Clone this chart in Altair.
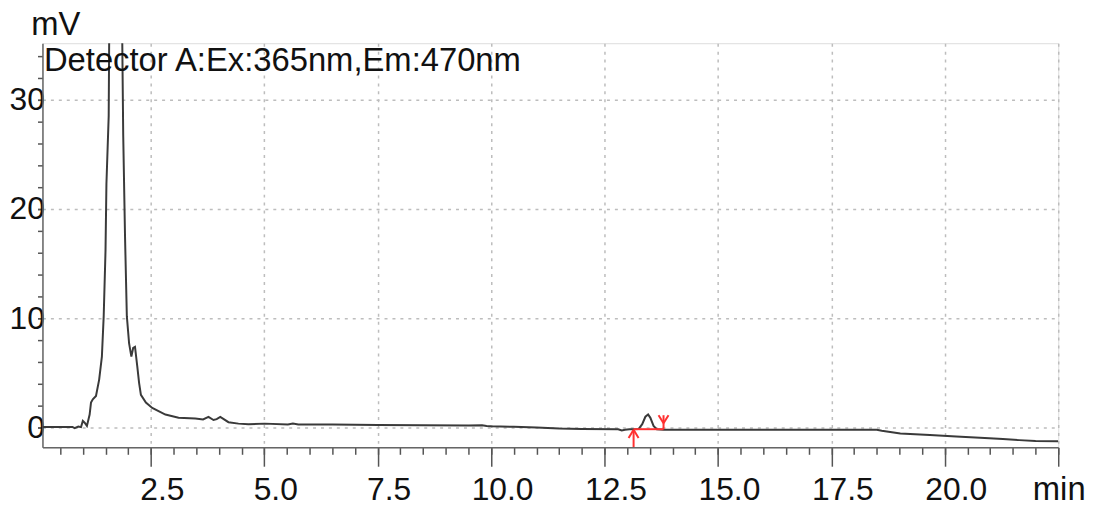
import altair as alt
import pandas as pd

# ---- chromatogram ----
time_min = [0.11, 0.77, 0.82, 0.90, 0.96, 1.00, 1.04, 1.09, 1.15, 1.18, 1.22, 1.29,
            1.36, 1.42, 1.46, 1.50, 1.52, 1.57, 1.58, 1.63, 1.73, 1.82, 1.87, 1.89,
            1.93, 1.97, 2.02, 2.07, 2.11, 2.15, 2.20, 2.24, 2.28, 2.39, 2.53, 2.82,
            3.11, 3.48, 3.65, 3.77, 3.88, 3.95, 4.03, 4.21, 4.43, 4.65, 5.01, 5.52,
            5.63, 5.75, 6.5, 7.5, 8.5, 9.5, 9.8, 9.9, 10.0, 10.5, 11.0, 11.5, 12.0,
            12.8, 12.88, 12.95, 13.05, 13.25, 13.33, 13.40, 13.46, 13.51, 13.58,
            13.65, 13.8, 15.0, 17.0, 18.5, 18.61, 19.02, 19.67, 20.25, 20.88, 21.28,
            21.64, 22.0, 22.5]
signal_mv = [0.07, 0.07, -0.05, 0.10, 0.05, 0.62, 0.45, 0.16, 1.2, 2.3, 2.6, 2.9,
             4.4, 6.5, 10.2, 16.2, 22.3, 28.5, 35.0, 60.0, 95.0, 60.0, 35.0, 26.8,
             17.5, 10.2, 7.7, 6.5, 7.3, 7.4, 5.6, 4.1, 3.0, 2.3, 1.8, 1.2,
             0.9, 0.83, 0.75, 0.98, 0.7, 0.78, 0.98, 0.5, 0.37, 0.32, 0.37, 0.30,
             0.38, 0.30, 0.28, 0.25, 0.23, 0.20, 0.22, 0.15, 0.13, 0.08, 0.02, -0.08, -0.13,
             -0.14, -0.25, -0.20, -0.15, -0.12, 0.32, 1.0, 1.2, 0.9, 0.16,
             -0.14, -0.20, -0.20, -0.20, -0.20, -0.29, -0.53, -0.68, -0.80, -0.95, -1.04,
             -1.14, -1.23, -1.25]

# ---- integration marks of the small peak (baseline and start/end arrows) ----
seg_x = [13.14, 13.14, 13.14, 13.14, 13.80, 13.80, 13.80]
seg_x2 = [13.80, 13.14, 13.03, 13.25, 13.80, 13.69, 13.91]
seg_y = [-0.14, -0.20, -0.20, -0.20, 1.14, 0.41, 0.41]
seg_y2 = [-0.14, -1.77, -0.95, -0.95, -0.14, 1.14, 1.14]

# ---- ticks ----
major_x = [2.5, 5.0, 7.5, 10.0, 12.5, 15.0, 17.5, 20.0, 22.5]
minor_x = [0.5 * i for i in range(1, 46)]
major_y = [0, 10, 20, 30]
minor_y = list(range(0, 36, 2))

detector_label = ["Detector A:Ex:365nm,Em:470nm"]
y_unit = ["mV"]
x_unit = ["min"]

FONT = "Liberation Sans"
FS = 32
W, H = 1023, 407

df = pd.DataFrame({"t": time_min, "mv": signal_mv})
seg = pd.DataFrame({"x": seg_x, "x2": seg_x2, "y": seg_y, "y2": seg_y2})

xscale = alt.Scale(domain=[0.11, 22.5], nice=False, zero=False)
yscale = alt.Scale(domain=[-1.8, 35.17], nice=False, zero=False)

line = alt.Chart(df).mark_line(clip=True, color="#3a3a3a", strokeWidth=2).encode(
    x=alt.X("t:Q", scale=xscale, axis=alt.Axis(
        values=major_x, orient="bottom", title=None, tickSize=19, tickColor="#555",
        tickWidth=1.5, labelExpr="datum.value > 22 ? '' : format(datum.value, '.1f')",
        labelFont=FONT, labelFontSize=FS, labelColor="#111", labelOffset=11,
        labelPadding=34, labelBaseline="alphabetic", labelFlush=False,
        grid=True, gridColor="#bdbdbd", gridDash=[3, 5], gridWidth=1.5,
        domainColor="#666", domainWidth=1.5)),
    y=alt.Y("mv:Q", scale=yscale, axis=alt.Axis(
        values=major_y, orient="left", title=None, tickSize=5, tickColor="#555",
        tickWidth=1.5, labelFont=FONT, labelFontSize=FS, labelColor="#111",
        labelPadding=-7, labelFlush=False, grid=True, gridColor="#bdbdbd",
        gridDash=[3, 5], gridWidth=1.5, domainColor="#666", domainWidth=1.5)),
)

minor = alt.Chart(df).mark_line(opacity=0).encode(
    x=alt.X("t:Q", scale=xscale, axis=alt.Axis(
        values=minor_x, orient="bottom", title=None, tickSize=7, tickColor="#555",
        tickWidth=1.5, labels=False, domain=False, grid=False)),
    y=alt.Y("mv:Q", scale=yscale, axis=alt.Axis(
        values=minor_y, orient="left", title=None, tickSize=5, tickColor="#555",
        tickWidth=1.5, labels=False, domain=False, grid=False)),
)

marks = alt.Chart(seg).mark_rule(color="#ff3030", strokeWidth=2).encode(
    x=alt.X("x:Q", scale=xscale, axis=None), x2="x2",
    y=alt.Y("y:Q", scale=yscale, axis=None), y2="y2",
)

det = alt.Chart(pd.DataFrame({"label": detector_label})).mark_text(
    font=FONT, fontSize=33, color="#111", align="left", baseline="alphabetic"
).encode(text="label:N", x=alt.value(1.5), y=alt.value(27.6))

mv = alt.Chart(pd.DataFrame({"label": y_unit})).mark_text(
    font=FONT, fontSize=33, color="#111", align="left", baseline="alphabetic"
).encode(text="label:N", x=alt.value(-11.4), y=alt.value(-8.4))

mn = alt.Chart(pd.DataFrame({"label": x_unit})).mark_text(
    font=FONT, fontSize=33, color="#111", align="center", baseline="alphabetic"
).encode(text="label:N", x=alt.value(1024), y=alt.value(460))

chart = alt.layer(minor, line, marks, det, mv, mn).resolve_axis(
    x="independent", y="independent"
).properties(
    width=W, height=H,
    autosize=alt.AutoSizeParams(type="none"),
    padding={"left": 34.7, "top": 33.7, "right": 33, "bottom": 58},
).configure_view(stroke="#666", strokeWidth=1.5).configure(background="white")

chart.save("out.html", embed_options={"renderer": "svg", "actions": False})
